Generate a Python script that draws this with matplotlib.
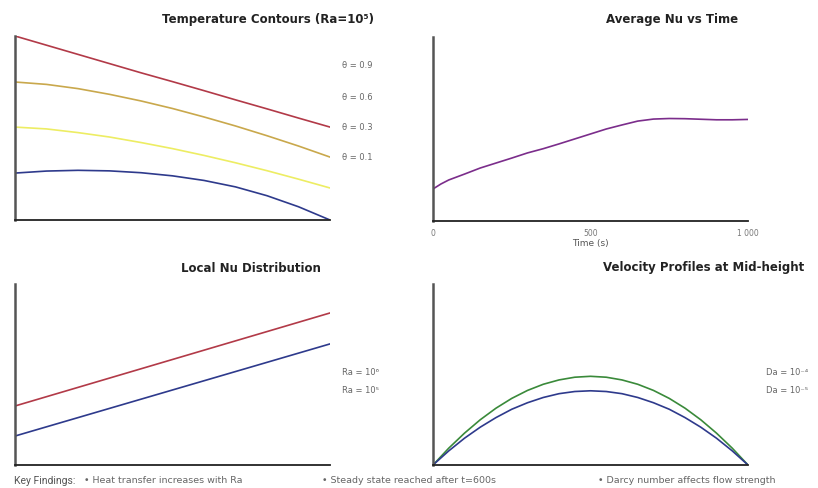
import numpy as np
import matplotlib
matplotlib.use("Agg")
import matplotlib.pyplot as plt

plt.rcParams['font.family'] = ['DejaVu Sans']

# --- data ---
x_pos = [0.0, 0.1, 0.2, 0.3, 0.4, 0.5, 0.6, 0.7, 0.8, 0.9, 1.0]
theta_levels = ["θ = 0.9", "θ = 0.6", "θ = 0.3", "θ = 0.1"]
theta_09 = [1.0, 0.95, 0.90, 0.85, 0.80, 0.752, 0.703, 0.653, 0.604, 0.554, 0.505]
theta_06 = [0.75, 0.737, 0.714, 0.683, 0.647, 0.606, 0.56, 0.511, 0.458, 0.402, 0.342]
theta_03 = [0.505, 0.495, 0.475, 0.451, 0.421, 0.388, 0.351, 0.311, 0.268, 0.222, 0.174]
theta_01 = [0.255, 0.266, 0.27, 0.267, 0.257, 0.24, 0.215, 0.18, 0.132, 0.072, 0.0]

time_s = [0, 25, 50, 100, 150, 200, 250, 300, 350, 400, 450, 500, 550,
          600, 650, 700, 750, 800, 850, 900, 950, 1000]
avg_nu = [1.74, 2.01, 2.23, 2.55, 2.88, 3.15, 3.42, 3.70, 3.93, 4.19, 4.46, 4.73, 5.00,
          5.22, 5.43, 5.54, 5.57, 5.56, 5.53, 5.50, 5.50, 5.52]

local_x = [0.0, 1.0]
nu_ra6 = [3.26, 8.40]
nu_ra5 = [1.60, 6.69]
ra_labels = ["Ra = 10⁶", "Ra = 10⁵"]

vel_x = [0.0, 0.05, 0.1, 0.15, 0.2, 0.25, 0.3, 0.35, 0.4, 0.45, 0.5,
         0.55, 0.6, 0.65, 0.7, 0.75, 0.8, 0.85, 0.9, 0.95, 1.0]
vel_da4 = [0, .093, .176, .250, .314, .368, .412, .446, .470, .485, .49,
           .485, .470, .446, .412, .368, .314, .250, .176, .093, 0]
vel_da5 = [0, .078, .148, .209, .262, .308, .344, .373, .394, .406, .41,
           .406, .394, .373, .344, .308, .262, .209, .148, .078, 0]
da_labels = ["Da = 10⁻⁴", "Da = 10⁻⁵"]

findings = ["• Heat transfer increases with Ra",
            "• Steady state reached after t=600s",
            "• Darcy number affects flow strength"]

W, H = 818, 489
fig = plt.figure(figsize=(W / 100, H / 100), dpi=100)


def box(x0, y0, x1, y1):
    """pixel box (top-left origin) -> figure fraction rect"""
    return [x0 / W, 1 - y1 / H, (x1 - x0) / W, (y1 - y0) / H]


def ftext(x, y, s, **kw):
    fig.text(x / W, 1 - y / H, s, **kw)


def style(ax):
    for s in ["top", "right"]:
        ax.spines[s].set_visible(False)
    ax.spines["left"].set_color("#555555")
    ax.spines["left"].set_linewidth(1.8)
    ax.spines["bottom"].set_color("#222222")
    ax.spines["bottom"].set_linewidth(1.3)
    ax.tick_params(length=0)
    ax.set_xticks([])
    ax.set_yticks([])


lab = dict(fontsize=6, color="#666666", va="center", ha="left")
ttl = dict(fontsize=8.5, fontweight="bold", color="#222222", ha="center", va="center")

# top-left: temperature contours
ax1 = fig.add_axes(box(15, 37, 330, 221))
style(ax1)
for vals, c in zip([theta_09, theta_06, theta_03, theta_01],
                   ["#b23a48", "#c9a84c", "#eded63", "#2e3a8c"]):
    ax1.plot(x_pos, vals, color=c, lw=1.2)
ax1.set_xlim(0, 1)
ax1.set_ylim(0, 1)
ftext(268, 20, "Temperature Contours (Ra=10⁵)", **ttl)
for s, y in zip(theta_levels, [66, 97, 127, 157]):
    ftext(342, y, s, **lab)

# top-right: average Nu vs time
ax2 = fig.add_axes(box(433, 38, 748, 222))
style(ax2)
ax2.plot(time_s, avg_nu, color="#7b2d8b", lw=1.2)
ax2.set_xlim(0, 1000)
ax2.set_ylim(0, 10)
ax2.set_xticks([0, 500, 1000])
ax2.set_xticklabels(["0", "500", "1 000"], fontsize=5.5, color="#777777")
ax2.tick_params(axis="x", pad=5)
ax2.set_xlabel("Time (s)", fontsize=6.5, color="#555555", labelpad=1)
ftext(672, 20, "Average Nu vs Time", **ttl)

# bottom-left: local Nu distribution
ax3 = fig.add_axes(box(15, 285, 330, 466))
style(ax3)
ax3.plot(local_x, nu_ra6, color="#b23a48", lw=1.2)
ax3.plot(local_x, nu_ra5, color="#2e3a8c", lw=1.2)
ax3.set_xlim(0, 1)
ax3.set_ylim(0, 10)
ftext(251, 268, "Local Nu Distribution", **ttl)
for s, y in zip(ra_labels, [373, 391]):
    ftext(342, y, s, **lab)

# bottom-right: velocity profiles
ax4 = fig.add_axes(box(433, 285, 748, 466))
style(ax4)
ax4.plot(vel_x, vel_da4, color="#3a8a3a", lw=1.2)
ax4.plot(vel_x, vel_da5, color="#2e3a8c", lw=1.2)
ax4.set_xlim(0, 1)
ax4.set_ylim(0, 1)
ftext(704, 268, "Velocity Profiles at Mid-height", **ttl)
for s, y in zip(da_labels, [373, 391]):
    ftext(766, y, s, **lab)

# key findings strip
ftext(14, 481, "Key Findings:", fontsize=7.5, color="#555555", va="center",
      family=["Roboto", "DejaVu Sans"])
for s, x in zip(findings, [84, 322, 598]):
    ftext(x, 481, s, fontsize=6.8, color="#666666", va="center")

fig.savefig("out.png", dpi=100)
